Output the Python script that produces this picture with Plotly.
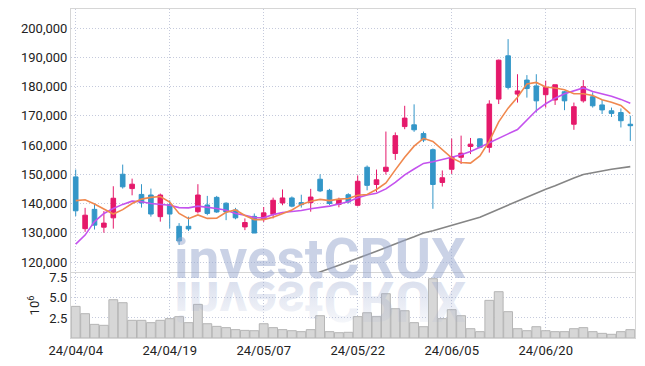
import base64
import plotly.graph_objects as go

dates = [
    "24/04/04", "24/04/05", "24/04/08", "24/04/09", "24/04/11", "24/04/12", "24/04/15", "24/04/16",
    "24/04/17", "24/04/18", "24/04/19", "24/04/22", "24/04/23", "24/04/24", "24/04/25", "24/04/26",
    "24/04/29", "24/04/30", "24/05/02", "24/05/03", "24/05/07", "24/05/08", "24/05/09", "24/05/10",
    "24/05/13", "24/05/14", "24/05/16", "24/05/17", "24/05/20", "24/05/21", "24/05/22", "24/05/23",
    "24/05/24", "24/05/27", "24/05/28", "24/05/29", "24/05/30", "24/05/31", "24/06/03", "24/06/04",
    "24/06/05", "24/06/07", "24/06/10", "24/06/11", "24/06/12", "24/06/13", "24/06/14", "24/06/17",
    "24/06/18", "24/06/19", "24/06/20", "24/06/21", "24/06/24", "24/06/25", "24/06/26", "24/06/27",
    "24/06/28", "24/07/01", "24/07/02", "24/07/03",
]

opens = [
    149100, 131400, 138000, 131900, 135100, 150000, 145100, 143100, 142900, 135500,
    139600, 132200, 132200, 137200, 139500, 142100, 140100, 137800, 132000, 135600,
    134600, 136300, 140200, 141900, 140300, 140300, 148300, 144500, 139700, 143000,
    139400, 152400, 146500, 151000, 157100, 166300, 166900, 163900, 158400, 147200,
    151700, 155800, 159500, 162100, 159200, 175700, 190500, 177400, 182200, 180200,
    177200, 175400, 178200, 167100, 175100, 176500, 173700, 171700, 171100, 167100,
]
highs = [
    151600, 138500, 140000, 137400, 145900, 153300, 148500, 146600, 145100, 143400,
    141100, 133300, 135500, 146600, 142600, 142600, 140400, 138500, 134900, 136600,
    138800, 142000, 144800, 142400, 143000, 145000, 150000, 145000, 142000, 143500,
    149600, 153000, 151600, 164600, 164300, 173400, 173900, 164600, 158800, 151300,
    162200, 163200, 162400, 162300, 175300, 189200, 196200, 184200, 183900, 184200,
    182000, 180600, 178500, 174500, 182200, 178000, 175400, 172800, 172500, 170000,
]
lows = [
    135700, 130300, 131100, 130000, 131400, 145100, 142800, 138600, 135500, 133800,
    131500, 125800, 130600, 136600, 136000, 136800, 134300, 134600, 130900, 129900,
    133700, 134900, 139400, 138700, 138600, 137200, 143900, 139500, 138700, 140000,
    139000, 144500, 143900, 149900, 154900, 165400, 164500, 161000, 138200, 145800,
    150100, 153500, 156900, 158900, 157400, 174000, 179000, 174500, 176200, 171100,
    172800, 173700, 171900, 165200, 174500, 172800, 170600, 169600, 166000, 161400,
]
closes = [
    137500, 136000, 132600, 133300, 141800, 145700, 146600, 140200, 136400, 142900,
    136400, 127200, 131300, 142900, 136600, 137100, 137100, 135100, 133500, 129900,
    136800, 141100, 141900, 139100, 139600, 142200, 144300, 140000, 141400, 140500,
    147600, 146200, 148100, 152400, 163200, 169200, 165200, 161700, 146500, 148800,
    156000, 157200, 160300, 159200, 174000, 189000, 179700, 178500, 179300, 175100,
    179700, 180600, 175100, 173100, 179900, 173400, 172000, 170800, 168300, 166600,
]

# moving averages (orange = 5, purple = 20, gray = 60)
ma5 = [
    141000, 141300, 139800, 138000, 136400, 137900, 140000, 141500, 142100, 142400,
    140500, 136600, 134800, 136100, 134900, 135000, 137000, 137800, 135900, 134500,
    134500, 135300, 136600, 137800, 139700, 140800, 141400, 141000, 141500, 141700,
    142800, 143100, 144800, 147000, 151500, 155800, 159600, 162300, 161200, 158300,
    155600, 154000, 153800, 156300, 161300, 167900, 172600, 176300, 180900, 181400,
    179800, 179500, 178900, 177500, 177500, 176900, 175500, 174600, 173500, 170700,
]
ma20 = [
    126100, 129200, 133800, 136600, 138300, 139700, 140800, 140600, 140000, 139700,
    139400, 138600, 138500, 139100, 138800, 138300, 137700, 136600, 136000, 135200,
    135100, 136200, 136900, 137200, 137600, 138200, 138600, 139100, 139800, 140600,
    142000, 142900, 143500, 145000, 147200, 149800, 151800, 153700, 154300, 155000,
    155800, 156700, 157800, 159200, 160800, 162300, 163800, 165300, 168600, 171800,
    174100, 176000, 177500, 178600, 179500, 178300, 177500, 176700, 175600, 174300,
]
ma60 = [None] * 24 + [
    114300, 115400, 116600, 117800, 118900, 120100,
    121200, 122500, 123700, 125000, 126100, 127400, 128600, 129900, 130700, 131600,
    132400, 133300, 134300, 135300, 136700, 138100, 139500, 140900, 142300, 143600,
    144900, 146100, 147500, 148700, 149900, 150600, 151100, 151700, 152200, 152600,
]

volumes = [  # millions of shares
    3.94, 3.03, 1.70, 1.58, 4.77, 4.40, 2.20, 2.20, 1.91, 2.20,
    2.41, 2.66, 1.91, 4.19, 1.78, 1.45, 1.29, 1.04, 0.95, 0.91,
    1.78, 1.29, 1.04, 0.91, 0.79, 1.04, 2.78, 0.79, 0.66, 0.71,
    2.66, 3.15, 2.66, 5.52, 3.65, 3.40, 1.91, 1.41, 7.39, 2.41,
    3.53, 2.78, 1.16, 0.79, 4.69, 5.77, 3.28, 1.16, 0.91, 1.41,
    0.91, 0.79, 0.79, 1.16, 1.29, 0.79, 0.58, 0.46, 0.79, 1.04,
]

tick_dates = ["24/04/04", "24/04/19", "24/05/07", "24/05/22", "24/06/05", "24/06/20"]
price_ticks = [120000, 130000, 140000, 150000, 160000, 170000, 180000, 190000, 200000]
vol_ticks = [2.5, 5.0, 7.5]
vol_tick_text = ["2.5", "5.0", "7.5"]
watermark = "investCRUX"

UP = "#e5196b"
DOWN = "#3396c8"
GRID = "#c5cadc"
AXIS = "#d6d6d6"
FONT = "Roboto"
WM_FONT = "Roboto"
TXT = "#222222"

fig = go.Figure()
fig.add_trace(go.Candlestick(
    x=dates, open=opens, high=highs, low=lows, close=closes,
    increasing=dict(line=dict(color=UP, width=1), fillcolor=UP),
    decreasing=dict(line=dict(color=DOWN, width=1), fillcolor=DOWN),
    whiskerwidth=0, xaxis="x", yaxis="y", showlegend=False, hoverinfo="skip",
))
fig.add_trace(go.Scatter(x=dates, y=ma60, mode="lines", line=dict(color="#858585", width=1.6),
                         xaxis="x", yaxis="y", hoverinfo="skip"))
fig.add_trace(go.Scatter(x=dates, y=ma20, mode="lines", line=dict(color="#c452ee", width=1.6),
                         xaxis="x", yaxis="y", hoverinfo="skip"))
fig.add_trace(go.Scatter(x=dates, y=ma5, mode="lines", line=dict(color="#f0884e", width=1.6),
                         xaxis="x", yaxis="y", hoverinfo="skip"))
fig.add_trace(go.Bar(x=dates, y=volumes, xaxis="x2", yaxis="y2", hoverinfo="skip",
                     marker=dict(color="#d7d7d7", line=dict(color="#b5b5b5", width=1))))

# the page body has an 8px margin, so the figure starts at (8, 8) in the window.
OFF = 8
FIG_W, FIG_H = 645 - OFF, 366 - OFF
# plot area in window pixels: x 71..635, y 9..338
L, R, T, B = 71, 635, 9, 338
PW, PH = R - L, B - T


def px_x(px):
    return (px - L) / PW


def px_y(py):
    return (B - py) / PH


axis_common = dict(
    showgrid=True, gridcolor=GRID, griddash="1px,2px", gridwidth=1,
    showline=True, linecolor=AXIS, linewidth=1, mirror=True, zeroline=False,
    ticks="", automargin=False, tickfont=dict(family=FONT, size=13, color=TXT),
)

fig.update_layout(
    width=FIG_W, height=FIG_H,
    margin=dict(l=L - OFF, r=FIG_W - (R - OFF), t=T - OFF, b=FIG_H - (B - OFF), autoexpand=False),
    plot_bgcolor="white", paper_bgcolor="white",
    showlegend=False, bargap=0.06,
    font=dict(family=FONT, size=13, color=TXT),
    xaxis=dict(type="category", anchor="y", domain=[0, 1], range=[-0.5, 59.5],
               rangeslider=dict(visible=False), tickvals=tick_dates,
               showticklabels=False, **axis_common),
    yaxis=dict(anchor="x", domain=[px_y(272), 1], range=[116580, 206500],
               tickvals=price_ticks, tickformat=",", **axis_common),
    xaxis2=dict(type="category", anchor="y2", domain=[0, 1], range=[-0.5, 59.5],
                matches="x", tickvals=tick_dates, ticktext=tick_dates, **axis_common),
    yaxis2=dict(anchor="x2", domain=[0, px_y(273)], range=[0, 8.1],
                tickvals=vol_ticks, ticktext=vol_tick_text,
                title=dict(text="10<sup>6</sup>", standoff=6,
                           font=dict(family=FONT, size=13, color=TXT)),
                **axis_common),
)

# watermark
fig.add_annotation(
    text="<b>" + watermark + "</b>", xref="paper", yref="paper",
    x=px_x(320), y=px_y(293), xanchor="center", yanchor="bottom", showarrow=False,
    font=dict(family=WM_FONT, size=55, color="rgba(150,165,205,0.5)"),
)

svg = (
    "<svg xmlns='http://www.w3.org/2000/svg' width='320' height='60' viewBox='0 0 320 60'>"
    "<defs><linearGradient id='g' x1='0' y1='0' x2='0' y2='1'>"
    "<stop offset='0' stop-color='#96a5cd' stop-opacity='0.03'/>"
    "<stop offset='1' stop-color='#96a5cd' stop-opacity='0.42'/>"
    "</linearGradient></defs>"
    "<g transform='scale(1,-1)'><text x='160' y='-2' text-anchor='middle' "
    "font-family='" + WM_FONT + "' font-weight='bold' font-size='55' fill='url(#g)'>"
    + watermark + "</text></g></svg>"
)
fig.add_layout_image(
    source="data:image/svg+xml;base64," + base64.b64encode(svg.encode()).decode(),
    xref="paper", yref="paper", x=px_x(160), y=px_y(280), sizex=320 / PW, sizey=60 / PH,
    xanchor="left", yanchor="top", sizing="stretch", layer="above",
)

fig.write_html("out.html")
